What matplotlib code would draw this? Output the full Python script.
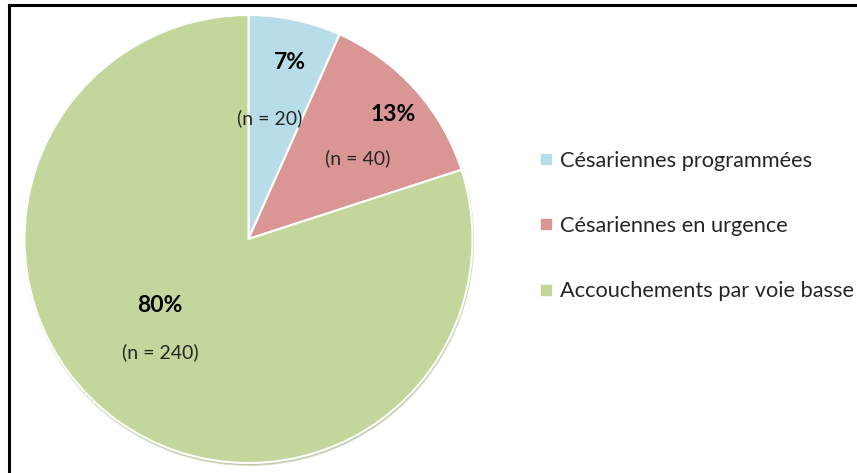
import matplotlib
matplotlib.use('Agg')
import matplotlib.pyplot as plt
from matplotlib.lines import Line2D

# donnees
categories = ['Césariennes programmées', 'Césariennes en urgence', 'Accouchements par voie basse']
effectifs = [20, 40, 240]
pourcentages = ['7%', '13%', '80%']
couleurs = ['#B7DEE8', '#D99694', '#C3D69B']

# positions des etiquettes (coord. du camembert, rayon = 1)
pos_pct = [(0.185, 0.786), (0.645, 0.554), (-0.395, -0.295)]
pos_n = [(0.096, 0.540), (0.489, 0.362), (-0.395, -0.504)]

plt.rcParams['font.family'] = ['Lato', 'DejaVu Sans']

W, H = 857, 473
fig = plt.figure(figsize=(W / 100, H / 100), dpi=100)

# centre (248.5, 239) px, rayon 224 px
cx, cy, r = 248.5, 239, 224
ax = fig.add_axes([(cx - r) / W, (H - cy - r) / H, 2 * r / W, 2 * r / H])
ax.pie(effectifs, colors=couleurs, startangle=90, counterclock=False, radius=1,
       wedgeprops=dict(edgecolor='white', linewidth=1.5),
       shadow=dict(ox=0.002, oy=-0.006, shade=0.15))
ax.set_xlim(-1, 1)
ax.set_ylim(-1, 1)
ax.set_aspect('equal')
ax.axis('off')

for (px, py), t in zip(pos_pct, pourcentages):
    ax.text(px, py, t, ha='center', va='center', fontsize=16.5, fontweight='bold', color='black')
for (px, py), n in zip(pos_n, effectifs):
    ax.text(px, py, f'(n = {n})', ha='center', va='center', fontsize=14, color='#262626')

handles = [Line2D([], [], marker='s', linestyle='none', markersize=6.5,
                  markerfacecolor=c, markeredgecolor=c) for c in couleurs]
fig.legend(handles, categories, loc='center left', bbox_to_anchor=(531 / W, 1 - 226 / H),
           frameon=False, fontsize=15.7, labelcolor='#262626', handlelength=0.55,
           handletextpad=0.4, labelspacing=2.07, borderaxespad=0)

# cadre noir (haut et gauche visibles)
fig.add_artist(Line2D([8.5 / W, 1], [1 - 5 / H, 1 - 5 / H], color='black', linewidth=2.2,
                      transform=fig.transFigure))
fig.add_artist(Line2D([8.5 / W, 8.5 / W], [0, 1 - 5 / H], color='black', linewidth=2.2,
                      transform=fig.transFigure))

fig.savefig('out.png', dpi=100, facecolor='white')
